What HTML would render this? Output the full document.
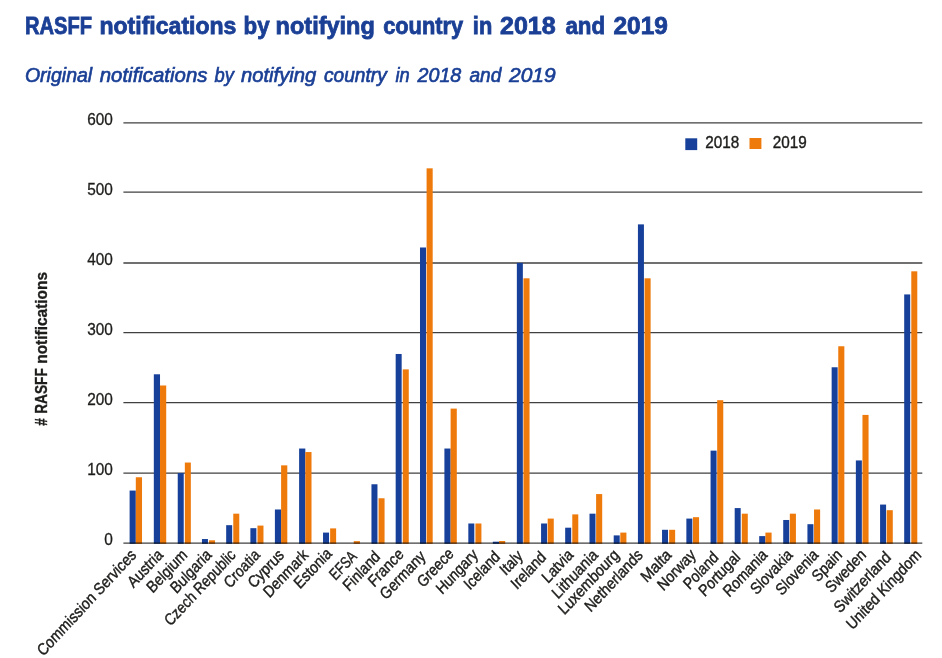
<!DOCTYPE html>
<html lang="en"><head><meta charset="utf-8"><title>RASFF notifications by notifying country in 2018 and 2019</title>
<style>html,body{margin:0;padding:0;background:#fff;}body{width:942px;height:658px;overflow:hidden;font-family:"Liberation Sans",sans-serif;}svg{display:block;}text{font-family:"Liberation Sans",sans-serif;}</style>
</head><body>
<svg width="942" height="658" viewBox="0 0 942 658">
<rect x="0" y="0" width="942" height="658" fill="#ffffff"/>
<text x="24.92" y="33.8" font-size="23.4" font-weight="bold" fill="#1a3f95" stroke="#1a3f95" stroke-width="0.8" textLength="67.08" lengthAdjust="spacingAndGlyphs">RASFF</text>
<text x="99.48" y="33.8" font-size="23.4" font-weight="bold" fill="#1a3f95" stroke="#1a3f95" stroke-width="0.8" textLength="136.96" lengthAdjust="spacingAndGlyphs">notifications</text>
<text x="243.56" y="33.8" font-size="23.4" font-weight="bold" fill="#1a3f95" stroke="#1a3f95" stroke-width="0.8" textLength="26.02" lengthAdjust="spacingAndGlyphs">by</text>
<text x="275.62" y="33.8" font-size="23.4" font-weight="bold" fill="#1a3f95" stroke="#1a3f95" stroke-width="0.8" textLength="99.18" lengthAdjust="spacingAndGlyphs">notifying</text>
<text x="383.14" y="33.8" font-size="23.4" font-weight="bold" fill="#1a3f95" stroke="#1a3f95" stroke-width="0.8" textLength="80.00" lengthAdjust="spacingAndGlyphs">country</text>
<text x="472.84" y="33.8" font-size="23.4" font-weight="bold" fill="#1a3f95" stroke="#1a3f95" stroke-width="0.8" textLength="19.38" lengthAdjust="spacingAndGlyphs">in</text>
<text x="500.06" y="33.8" font-size="23.4" font-weight="bold" fill="#1a3f95" stroke="#1a3f95" stroke-width="0.8" textLength="55.66" lengthAdjust="spacingAndGlyphs">2018</text>
<text x="565.42" y="33.8" font-size="23.4" font-weight="bold" fill="#1a3f95" stroke="#1a3f95" stroke-width="0.8" textLength="39.74" lengthAdjust="spacingAndGlyphs">and</text>
<text x="613.50" y="33.8" font-size="23.4" font-weight="bold" fill="#1a3f95" stroke="#1a3f95" stroke-width="0.8" textLength="54.36" lengthAdjust="spacingAndGlyphs">2019</text>
<text x="24.92" y="82.3" font-size="20.0" font-style="italic" fill="#1a3f95" stroke="#1a3f95" stroke-width="0.65" textLength="67.28" lengthAdjust="spacingAndGlyphs">Original</text>
<text x="99.78" y="82.3" font-size="20.0" font-style="italic" fill="#1a3f95" stroke="#1a3f95" stroke-width="0.65" textLength="107.66" lengthAdjust="spacingAndGlyphs">notifications</text>
<text x="214.52" y="82.3" font-size="20.0" font-style="italic" fill="#1a3f95" stroke="#1a3f95" stroke-width="0.65" textLength="19.30" lengthAdjust="spacingAndGlyphs">by</text>
<text x="241.00" y="82.3" font-size="20.0" font-style="italic" fill="#1a3f95" stroke="#1a3f95" stroke-width="0.65" textLength="75.22" lengthAdjust="spacingAndGlyphs">notifying</text>
<text x="324.00" y="82.3" font-size="20.0" font-style="italic" fill="#1a3f95" stroke="#1a3f95" stroke-width="0.65" textLength="62.70" lengthAdjust="spacingAndGlyphs">country</text>
<text x="395.50" y="82.3" font-size="20.0" font-style="italic" fill="#1a3f95" stroke="#1a3f95" stroke-width="0.65" textLength="14.22" lengthAdjust="spacingAndGlyphs">in</text>
<text x="417.50" y="82.3" font-size="20.0" font-style="italic" fill="#1a3f95" stroke="#1a3f95" stroke-width="0.65" textLength="43.78" lengthAdjust="spacingAndGlyphs">2018</text>
<text x="469.42" y="82.3" font-size="20.0" font-style="italic" fill="#1a3f95" stroke="#1a3f95" stroke-width="0.65" textLength="31.86" lengthAdjust="spacingAndGlyphs">and</text>
<text x="509.00" y="82.3" font-size="20.0" font-style="italic" fill="#1a3f95" stroke="#1a3f95" stroke-width="0.65" textLength="46.72" lengthAdjust="spacingAndGlyphs">2019</text>
<line x1="123.4" x2="922.3" y1="473.05" y2="473.05" stroke="#404040" stroke-width="1.28"/>
<line x1="123.4" x2="922.3" y1="402.70" y2="402.70" stroke="#404040" stroke-width="1.28"/>
<line x1="123.4" x2="922.3" y1="332.66" y2="332.66" stroke="#404040" stroke-width="1.28"/>
<line x1="123.4" x2="922.3" y1="263.00" y2="263.00" stroke="#404040" stroke-width="1.28"/>
<line x1="123.4" x2="922.3" y1="192.21" y2="192.21" stroke="#404040" stroke-width="1.28"/>
<line x1="123.4" x2="922.3" y1="122.79" y2="122.79" stroke="#404040" stroke-width="1.28"/>
<text x="112.9" y="544.90" font-size="16.6" text-anchor="end" fill="#1d1d1b" stroke="#1d1d1b" stroke-width="0.3" textLength="8.6" lengthAdjust="spacingAndGlyphs">0</text>
<text x="112.9" y="475.35" font-size="16.6" text-anchor="end" fill="#1d1d1b" stroke="#1d1d1b" stroke-width="0.3" textLength="25.7" lengthAdjust="spacingAndGlyphs">100</text>
<text x="112.9" y="405.00" font-size="16.6" text-anchor="end" fill="#1d1d1b" stroke="#1d1d1b" stroke-width="0.3" textLength="25.7" lengthAdjust="spacingAndGlyphs">200</text>
<text x="112.9" y="334.96" font-size="16.6" text-anchor="end" fill="#1d1d1b" stroke="#1d1d1b" stroke-width="0.3" textLength="25.7" lengthAdjust="spacingAndGlyphs">300</text>
<text x="112.9" y="265.30" font-size="16.6" text-anchor="end" fill="#1d1d1b" stroke="#1d1d1b" stroke-width="0.3" textLength="25.7" lengthAdjust="spacingAndGlyphs">400</text>
<text x="112.9" y="194.51" font-size="16.6" text-anchor="end" fill="#1d1d1b" stroke="#1d1d1b" stroke-width="0.3" textLength="25.7" lengthAdjust="spacingAndGlyphs">500</text>
<text x="112.9" y="125.09" font-size="16.6" text-anchor="end" fill="#1d1d1b" stroke="#1d1d1b" stroke-width="0.3" textLength="25.7" lengthAdjust="spacingAndGlyphs">600</text>
<rect x="129.61" y="490.56" width="6.20" height="53.24" fill="#17409a"/>
<rect x="135.81" y="477.25" width="6.20" height="66.55" fill="#ee7a0c"/>
<rect x="153.82" y="374.28" width="6.20" height="169.52" fill="#17409a"/>
<rect x="160.02" y="385.49" width="6.20" height="158.31" fill="#ee7a0c"/>
<rect x="177.74" y="473.05" width="6.00" height="70.75" fill="#17409a"/>
<rect x="184.84" y="462.54" width="6.00" height="81.26" fill="#ee7a0c"/>
<rect x="201.95" y="539.04" width="6.00" height="4.76" fill="#17409a"/>
<rect x="209.05" y="540.30" width="6.00" height="3.50" fill="#ee7a0c"/>
<rect x="226.17" y="525.17" width="6.00" height="18.63" fill="#17409a"/>
<rect x="233.27" y="513.68" width="6.00" height="30.12" fill="#ee7a0c"/>
<rect x="250.38" y="528.18" width="6.00" height="15.62" fill="#17409a"/>
<rect x="257.48" y="525.59" width="6.00" height="18.21" fill="#ee7a0c"/>
<rect x="274.90" y="509.48" width="6.20" height="34.32" fill="#17409a"/>
<rect x="281.10" y="465.34" width="6.20" height="78.46" fill="#ee7a0c"/>
<rect x="299.11" y="448.53" width="6.20" height="95.27" fill="#17409a"/>
<rect x="305.31" y="452.04" width="6.20" height="91.77" fill="#ee7a0c"/>
<rect x="323.03" y="532.59" width="6.00" height="11.21" fill="#17409a"/>
<rect x="330.13" y="528.39" width="6.00" height="15.41" fill="#ee7a0c"/>
<rect x="353.74" y="541.14" width="6.20" height="2.66" fill="#ee7a0c"/>
<rect x="371.46" y="484.26" width="6.00" height="59.54" fill="#17409a"/>
<rect x="378.56" y="498.27" width="6.00" height="45.53" fill="#ee7a0c"/>
<rect x="395.67" y="353.97" width="6.00" height="189.83" fill="#17409a"/>
<rect x="402.77" y="369.38" width="6.00" height="174.42" fill="#ee7a0c"/>
<rect x="419.99" y="247.49" width="6.00" height="296.31" fill="#17409a"/>
<rect x="426.59" y="168.33" width="6.10" height="375.47" fill="#ee7a0c"/>
<rect x="444.40" y="448.53" width="6.20" height="95.27" fill="#17409a"/>
<rect x="450.60" y="408.60" width="6.20" height="135.20" fill="#ee7a0c"/>
<rect x="468.32" y="523.49" width="6.00" height="20.31" fill="#17409a"/>
<rect x="475.42" y="523.49" width="6.00" height="20.31" fill="#ee7a0c"/>
<rect x="492.83" y="541.70" width="6.20" height="2.10" fill="#17409a"/>
<rect x="499.03" y="541.00" width="6.20" height="2.80" fill="#ee7a0c"/>
<rect x="516.85" y="262.90" width="6.00" height="280.90" fill="#17409a"/>
<rect x="523.45" y="278.31" width="6.10" height="265.49" fill="#ee7a0c"/>
<rect x="541.07" y="523.49" width="6.00" height="20.31" fill="#17409a"/>
<rect x="547.67" y="518.58" width="6.10" height="25.22" fill="#ee7a0c"/>
<rect x="565.18" y="527.69" width="6.00" height="16.11" fill="#17409a"/>
<rect x="572.28" y="514.38" width="6.00" height="29.42" fill="#ee7a0c"/>
<rect x="589.50" y="513.68" width="6.00" height="30.12" fill="#17409a"/>
<rect x="596.10" y="494.06" width="6.10" height="49.74" fill="#ee7a0c"/>
<rect x="613.71" y="535.39" width="6.00" height="8.41" fill="#17409a"/>
<rect x="620.31" y="532.59" width="6.10" height="11.21" fill="#ee7a0c"/>
<rect x="637.93" y="224.37" width="6.00" height="319.43" fill="#17409a"/>
<rect x="644.53" y="278.31" width="6.10" height="265.49" fill="#ee7a0c"/>
<rect x="662.04" y="529.79" width="6.00" height="14.01" fill="#17409a"/>
<rect x="669.14" y="529.79" width="6.00" height="14.01" fill="#ee7a0c"/>
<rect x="686.36" y="518.58" width="6.00" height="25.22" fill="#17409a"/>
<rect x="692.96" y="517.18" width="6.10" height="26.62" fill="#ee7a0c"/>
<rect x="710.57" y="450.63" width="6.00" height="93.17" fill="#17409a"/>
<rect x="717.17" y="400.20" width="6.10" height="143.60" fill="#ee7a0c"/>
<rect x="734.69" y="508.08" width="6.00" height="35.73" fill="#17409a"/>
<rect x="741.79" y="513.68" width="6.00" height="30.12" fill="#ee7a0c"/>
<rect x="759.20" y="536.10" width="6.20" height="7.71" fill="#17409a"/>
<rect x="765.40" y="532.59" width="6.20" height="11.21" fill="#ee7a0c"/>
<rect x="783.22" y="519.98" width="6.00" height="23.82" fill="#17409a"/>
<rect x="789.82" y="513.68" width="6.10" height="30.12" fill="#ee7a0c"/>
<rect x="807.43" y="524.19" width="6.00" height="19.61" fill="#17409a"/>
<rect x="814.03" y="509.48" width="6.10" height="34.32" fill="#ee7a0c"/>
<rect x="831.65" y="367.27" width="6.00" height="176.53" fill="#17409a"/>
<rect x="838.25" y="346.26" width="6.10" height="197.54" fill="#ee7a0c"/>
<rect x="855.86" y="460.44" width="6.00" height="83.36" fill="#17409a"/>
<rect x="862.46" y="414.91" width="6.10" height="128.89" fill="#ee7a0c"/>
<rect x="880.08" y="504.57" width="6.00" height="39.23" fill="#17409a"/>
<rect x="886.68" y="510.18" width="6.10" height="33.62" fill="#ee7a0c"/>
<rect x="904.19" y="294.42" width="6.00" height="249.38" fill="#17409a"/>
<rect x="911.29" y="271.31" width="6.00" height="272.49" fill="#ee7a0c"/>
<line x1="123.4" x2="922.3" y1="543.1" y2="543.1" stroke="#404040" stroke-width="1.4" style="mix-blend-mode:multiply"/>
<rect x="685.3" y="138.3" width="11.9" height="11.8" fill="#17409a"/>
<text x="705.3" y="147.7" font-size="16.6" fill="#1d1d1b" stroke="#1d1d1b" stroke-width="0.4" textLength="34" lengthAdjust="spacingAndGlyphs">2018</text>
<rect x="749.5" y="138" width="11.9" height="11" fill="#ee7a0c"/>
<text x="772.8" y="147.7" font-size="16.6" fill="#1d1d1b" stroke="#1d1d1b" stroke-width="0.4" textLength="34" lengthAdjust="spacingAndGlyphs">2019</text>
<text transform="translate(47.2,425.76) rotate(-90)" font-size="17" font-weight="bold" fill="#1d1d1b" stroke="#1d1d1b" stroke-width="0.35" textLength="7.50" lengthAdjust="spacingAndGlyphs">#</text>
<text transform="translate(47.2,413.78) rotate(-90)" font-size="17" font-weight="bold" fill="#1d1d1b" stroke="#1d1d1b" stroke-width="0.35" textLength="45.52" lengthAdjust="spacingAndGlyphs">RASFF</text>
<text transform="translate(47.2,363.78) rotate(-90)" font-size="17" font-weight="bold" fill="#1d1d1b" stroke="#1d1d1b" stroke-width="0.35" textLength="91.80" lengthAdjust="spacingAndGlyphs">notifications</text>
<text transform="translate(137.21,555.90) scale(0.9325,1) rotate(-45) scale(0.8999,1)" font-size="16.5" text-anchor="end" fill="#1d1d1b" stroke="#1d1d1b" stroke-width="0.42">Commission Services</text>
<text transform="translate(163.92,555.90) scale(0.9325,1) rotate(-45) scale(0.8999,1)" font-size="16.5" text-anchor="end" fill="#1d1d1b" stroke="#1d1d1b" stroke-width="0.42">Austria</text>
<text transform="translate(188.14,555.90) scale(0.9325,1) rotate(-45) scale(0.8999,1)" font-size="16.5" text-anchor="end" fill="#1d1d1b" stroke="#1d1d1b" stroke-width="0.42">Belgium</text>
<text transform="translate(212.35,555.90) scale(0.9325,1) rotate(-45) scale(0.8999,1)" font-size="16.5" text-anchor="end" fill="#1d1d1b" stroke="#1d1d1b" stroke-width="0.42">Bulgaria</text>
<text transform="translate(236.57,555.90) scale(0.9325,1) rotate(-45) scale(0.8688,1)" font-size="16.5" text-anchor="end" fill="#1d1d1b" stroke="#1d1d1b" stroke-width="0.42">Czech Republic</text>
<text transform="translate(260.78,555.90) scale(0.9325,1) rotate(-45) scale(0.8792,1)" font-size="16.5" text-anchor="end" fill="#1d1d1b" stroke="#1d1d1b" stroke-width="0.42">Croatia</text>
<text transform="translate(285.00,555.90) scale(0.9325,1) rotate(-45) scale(0.8999,1)" font-size="16.5" text-anchor="end" fill="#1d1d1b" stroke="#1d1d1b" stroke-width="0.42">Cyprus</text>
<text transform="translate(309.21,555.90) scale(0.9325,1) rotate(-45) scale(0.8999,1)" font-size="16.5" text-anchor="end" fill="#1d1d1b" stroke="#1d1d1b" stroke-width="0.42">Denmark</text>
<text transform="translate(332.63,554.60) scale(0.9325,1) rotate(-45) scale(0.8999,1)" font-size="16.5" text-anchor="end" fill="#1d1d1b" stroke="#1d1d1b" stroke-width="0.42">Estonia</text>
<text transform="translate(357.64,557.40) scale(0.9325,1) rotate(-45) scale(0.7758,1)" font-size="16.5" text-anchor="end" fill="#1d1d1b" stroke="#1d1d1b" stroke-width="0.42">EFSA</text>
<text transform="translate(381.06,557.70) scale(0.9325,1) rotate(-45) scale(0.8999,1)" font-size="16.5" text-anchor="end" fill="#1d1d1b" stroke="#1d1d1b" stroke-width="0.42">Finland</text>
<text transform="translate(404.57,555.10) scale(0.9325,1) rotate(-45) scale(0.8999,1)" font-size="16.5" text-anchor="end" fill="#1d1d1b" stroke="#1d1d1b" stroke-width="0.42">France</text>
<text transform="translate(426.29,557.40) scale(0.9325,1) rotate(-45) scale(0.8999,1)" font-size="16.5" text-anchor="end" fill="#1d1d1b" stroke="#1d1d1b" stroke-width="0.42">Germany</text>
<text transform="translate(454.50,554.70) scale(0.9325,1) rotate(-45) scale(0.8792,1)" font-size="16.5" text-anchor="end" fill="#1d1d1b" stroke="#1d1d1b" stroke-width="0.42">Greece</text>
<text transform="translate(478.72,555.90) scale(0.9325,1) rotate(-45) scale(0.8895,1)" font-size="16.5" text-anchor="end" fill="#1d1d1b" stroke="#1d1d1b" stroke-width="0.42">Hungary</text>
<text transform="translate(500.93,557.70) scale(0.9325,1) rotate(-45) scale(0.8792,1)" font-size="16.5" text-anchor="end" fill="#1d1d1b" stroke="#1d1d1b" stroke-width="0.42">Iceland</text>
<text transform="translate(523.65,556.90) scale(0.9325,1) rotate(-45) scale(0.8999,1)" font-size="16.5" text-anchor="end" fill="#1d1d1b" stroke="#1d1d1b" stroke-width="0.42">Italy</text>
<text transform="translate(546.87,558.20) scale(0.9325,1) rotate(-45) scale(0.8999,1)" font-size="16.5" text-anchor="end" fill="#1d1d1b" stroke="#1d1d1b" stroke-width="0.42">Ireland</text>
<text transform="translate(574.08,555.90) scale(0.9325,1) rotate(-45) scale(0.8999,1)" font-size="16.5" text-anchor="end" fill="#1d1d1b" stroke="#1d1d1b" stroke-width="0.42">Latvia</text>
<text transform="translate(598.80,555.90) scale(0.9325,1) rotate(-45) scale(0.9257,1)" font-size="16.5" text-anchor="end" fill="#1d1d1b" stroke="#1d1d1b" stroke-width="0.42">Lithuania</text>
<text transform="translate(620.01,555.90) scale(0.9325,1) rotate(-45) scale(0.9206,1)" font-size="16.5" text-anchor="end" fill="#1d1d1b" stroke="#1d1d1b" stroke-width="0.42">Luxembourg</text>
<text transform="translate(643.73,555.90) scale(0.9325,1) rotate(-45) scale(0.9050,1)" font-size="16.5" text-anchor="end" fill="#1d1d1b" stroke="#1d1d1b" stroke-width="0.42">Netherlands</text>
<text transform="translate(672.44,555.90) scale(0.9325,1) rotate(-45) scale(0.9619,1)" font-size="16.5" text-anchor="end" fill="#1d1d1b" stroke="#1d1d1b" stroke-width="0.42">Malta</text>
<text transform="translate(696.66,555.90) scale(0.9325,1) rotate(-45) scale(0.8999,1)" font-size="16.5" text-anchor="end" fill="#1d1d1b" stroke="#1d1d1b" stroke-width="0.42">Norway</text>
<text transform="translate(719.37,558.20) scale(0.9325,1) rotate(-45) scale(0.8844,1)" font-size="16.5" text-anchor="end" fill="#1d1d1b" stroke="#1d1d1b" stroke-width="0.42">Poland</text>
<text transform="translate(741.09,558.20) scale(0.9325,1) rotate(-45) scale(0.8999,1)" font-size="16.5" text-anchor="end" fill="#1d1d1b" stroke="#1d1d1b" stroke-width="0.42">Portugal</text>
<text transform="translate(768.30,555.90) scale(0.9325,1) rotate(-45) scale(0.8999,1)" font-size="16.5" text-anchor="end" fill="#1d1d1b" stroke="#1d1d1b" stroke-width="0.42">Romania</text>
<text transform="translate(793.52,555.90) scale(0.9325,1) rotate(-45) scale(0.8999,1)" font-size="16.5" text-anchor="end" fill="#1d1d1b" stroke="#1d1d1b" stroke-width="0.42">Slovakia</text>
<text transform="translate(819.23,555.90) scale(0.9325,1) rotate(-45) scale(0.8999,1)" font-size="16.5" text-anchor="end" fill="#1d1d1b" stroke="#1d1d1b" stroke-width="0.42">Slovenia</text>
<text transform="translate(842.95,555.90) scale(0.9325,1) rotate(-45) scale(0.8999,1)" font-size="16.5" text-anchor="end" fill="#1d1d1b" stroke="#1d1d1b" stroke-width="0.42">Spain</text>
<text transform="translate(866.96,555.90) scale(0.9325,1) rotate(-45) scale(0.8999,1)" font-size="16.5" text-anchor="end" fill="#1d1d1b" stroke="#1d1d1b" stroke-width="0.42">Sweden</text>
<text transform="translate(891.88,558.20) scale(0.9325,1) rotate(-45) scale(0.9206,1)" font-size="16.5" text-anchor="end" fill="#1d1d1b" stroke="#1d1d1b" stroke-width="0.42">Switzerland</text>
<text transform="translate(922.09,555.90) scale(0.9325,1) rotate(-45) scale(0.8999,1)" font-size="16.5" text-anchor="end" fill="#1d1d1b" stroke="#1d1d1b" stroke-width="0.42">United Kingdom</text>
</svg>
</body></html>
